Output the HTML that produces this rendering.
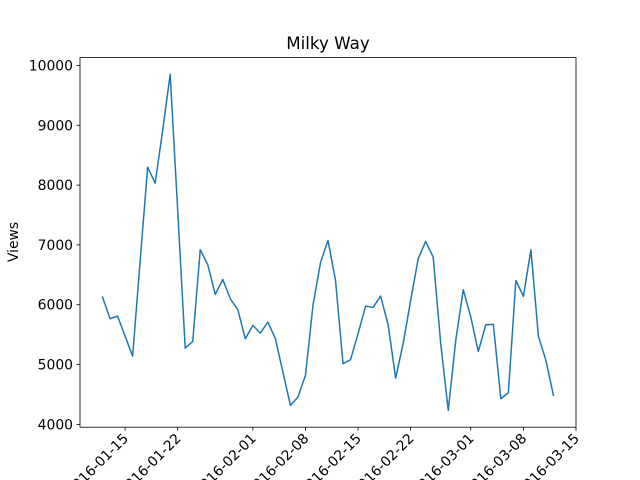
<!DOCTYPE html>
<html><head><meta charset="utf-8"><style>
html,body{margin:0;padding:0;background:#fff;}
svg{display:block;font-family:"DejaVu Sans","Liberation Sans",sans-serif;}
</style></head><body>
<svg id="chart" width="640" height="480" viewBox="0 0 640 480" xmlns="http://www.w3.org/2000/svg">
<rect width="640" height="480" fill="#fff"/>
<text x="328" y="49" font-size="16.7" text-anchor="middle" fill="#000">Milky Way</text>
<text transform="translate(18,242) rotate(-90)" font-size="13.9" text-anchor="middle" fill="#000">Views</text>
<g id="plot"></g>
</svg>
<script>
const startDate = "2016-01-12";
const views = [6127,5766,5810,5476,5141,6724,8300,8034,8914,9850,7577,5275,5387,6920,6669,6173,6423,6100,5917,5432,5654,5526,5710,5432,4874,4317,4456,4819,5989,6702,7075,6406,5014,5081,5516,5978,5955,6145,5666,4775,5349,6072,6769,7058,6796,5349,4234,5404,6251,5794,5220,5666,5671,4429,4529,6406,6139,6920,5471,5069,4484];
const xTickLabels = ["2016-01-15","2016-01-22","2016-02-01","2016-02-08","2016-02-15","2016-02-22","2016-03-01","2016-03-08","2016-03-15"];
const yTicks = [4000,5000,6000,7000,8000,9000,10000];

const NS="http://www.w3.org/2000/svg";
const L=80,R=576,T=57.6,B=427.2;
const DAY=86400000;
const t0=Date.parse(startDate+"T00:00:00Z");
const n=views.length;
const xmin=-0.05*(n-1), xmax=(n-1)*1.05;
const vmin=Math.min(...views), vmax=Math.max(...views), vr=vmax-vmin;
const ymin=vmin-0.05*vr, ymax=vmax+0.05*vr;
function xs(d){return L+(d-xmin)/(xmax-xmin)*(R-L);}
function ys(v){return B-(v-ymin)/(ymax-ymin)*(B-T);}
function mk(tag,attrs,parent){const e=document.createElementNS(NS,tag);for(const k in attrs)e.setAttribute(k,attrs[k]);parent.appendChild(e);return e;}
const g=document.getElementById('plot');

let d="";
views.forEach((v,i)=>{d+=(i?"L":"M")+xs(i).toFixed(2)+","+ys(v).toFixed(2);});
const line=mk('path',{d:d,fill:'none',stroke:'#1f77b4','stroke-width':1.5,'stroke-linejoin':'round','stroke-linecap':'square'},g);



const frame=mk('rect',{x:L,y:T,width:R-L,height:B-T,fill:'none',stroke:'#000','stroke-width':0.8},g);



yTicks.forEach(v=>{
  const y=ys(v);
  if(y<T-0.5||y>B+0.5)return;
  const tk=mk('line',{x1:L-3.5,x2:L,y1:y,y2:y,stroke:'#000','stroke-width':0.8},g);
  
  
  const tx=mk('text',{x:L-7,y:y+5,'font-size':13.9,'text-anchor':'end',fill:'#000'},g);
  tx.textContent=v;
  
  
});

xTickLabels.forEach(s=>{
  const dd=(Date.parse(s+"T00:00:00Z")-t0)/DAY;
  const x=xs(dd);
  const tk=mk('line',{x1:x,x2:x,y1:B,y2:B+3.5,stroke:'#000','stroke-width':0.8},g);
  
  
  const tx=mk('text',{transform:'translate('+(x+4)+','+(B+12)+') rotate(-45)','font-size':13.9,'text-anchor':'end',fill:'#000'},g);
  tx.textContent=s;
  
  
});
</script>
</body></html>
